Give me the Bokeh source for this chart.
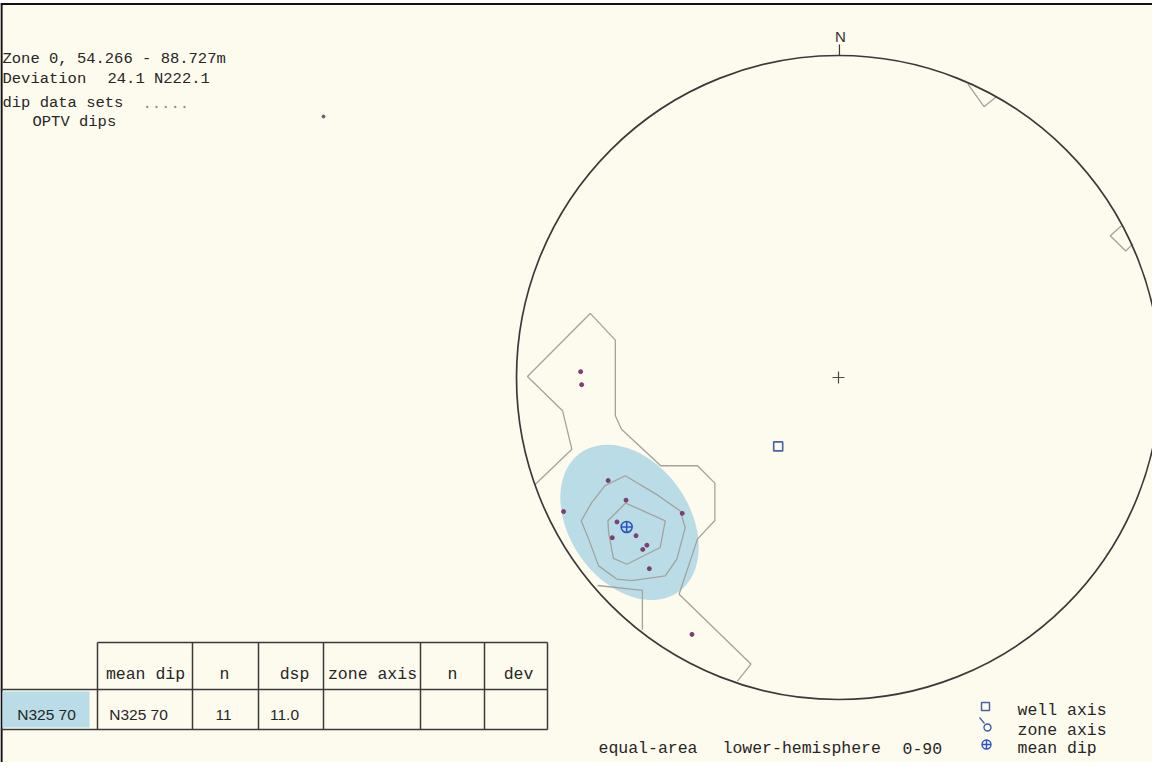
import numpy as np
from bokeh.plotting import figure
from bokeh.models import Range1d
from bokeh.core.properties import value
from bokeh.embed import file_html
from bokeh.resources import INLINE

# ---------------- data ----------------
# individual OPTV dips, as plotted (trend of plotted vector, plunge) in degrees
dip_trend = [271.3, 268.4, 245.9, 240.0, 244.0, 229.0, 236.9, 234.7, 232.0, 228.8, 228.7, 224.7, 209.7]
dip_plunge = [69.0, 68.7, 67.3, 65.2, 84.4, 54.1, 71.0, 75.0, 68.7, 68.0, 69.8, 72.4, 81.0]
mean_dip = [234.8, 69.4]          # plotted trend, plunge of the mean dip
well_axis = [221.2, 23.2]         # plotted trend, plunge of the well axis

# density contours, net units (east, north), unit circle = 90 deg
contour_outer_a_e = [-0.943, -0.828, -0.857, -0.966, -0.771, -0.693, -0.693, -0.674, -0.552, -0.438, -0.384, -0.384, -0.438, -0.495, -0.272, -0.314]
contour_outer_a_n = [-0.333, -0.223, -0.103, 0.003, 0.199, 0.116, -0.119, -0.161, -0.274, -0.274, -0.328, -0.444, -0.502, -0.673, -0.890, -0.943]
contour_outer_b_e = [-0.748, -0.609, -0.609]
contour_outer_b_n = [-0.646, -0.661, -0.783]
contour_wrap1_e = [0.402, 0.452, 0.491]
contour_wrap1_n = [0.911, 0.841, 0.873]
contour_wrap2_e = [0.879, 0.844, 0.892, 0.915]
contour_wrap2_n = [0.471, 0.440, 0.393, 0.415]
contour_mid_e = [-0.662, -0.559, -0.492, -0.476, -0.502, -0.538, -0.642, -0.689, -0.745, -0.776, -0.799, -0.766, -0.725]
contour_mid_n = [-0.305, -0.367, -0.414, -0.466, -0.564, -0.616, -0.631, -0.626, -0.585, -0.502, -0.445, -0.388, -0.336]
contour_in_e = [-0.661, -0.538, -0.554, -0.657, -0.699, -0.714, -0.716]
contour_in_n = [-0.390, -0.445, -0.528, -0.580, -0.562, -0.481, -0.445]

# dispersion ellipse (net units): centre, semi-axes, orientation (deg from east, ccw)
ellipse_center = [-0.649, -0.450]
ellipse_axes = [0.264, 0.186]
ellipse_angle = -55.0

header_words = ["Zone 0, 54.266 - 88.727m", "Deviation", "24.1 N222.1", "dip data sets", "OPTV dips"]
header_dots = ["....."]
table_header = ["mean dip", "n", "dsp", "zone axis", "n", "dev"]
table_row = ["N325 70", "11", "11.0", "", "", ""]
row_label = ["N325 70"]
legend_labels = ["well axis", "zone axis", "mean dip"]
footer_words = ["equal-area", "lower-hemisphere", "0-90"]
north_label = ["N"]

# ---------------- layout ----------------
CX, CY, R = 846.0, 385.0, 322.0
W, H = 1152, 762
INK = "#262626"
CREAM = "#fdfaee"
BLUE_FILL = "#b9dce6"
MONO = "Liberation Mono"
SANS = "Liberation Sans"


def X(px):
    return (px - CX) / R


def Y(py):
    return (CY - py) / R


def proj(trend, plunge):
    t = np.radians(np.asarray(trend, dtype=float))
    r = np.sqrt(2.0) * np.sin(np.radians(np.asarray(plunge, dtype=float)) / 2.0)
    return r * np.sin(t), r * np.cos(t)


p = figure(width=W, height=H, x_range=Range1d(X(8), X(8 + W)), y_range=Range1d(Y(8 + H), Y(8)),
           output_backend="svg", toolbar_location=None, min_border=0,
           x_axis_location=None, y_axis_location=None)
p.grid.visible = False
p.outline_line_color = None
p.background_fill_color = "white"
p.border_fill_color = "white"

# cream page and frame lines
p.quad(left=X(9), right=X(8 + W), top=Y(11.5), bottom=Y(8 + H), fill_color=CREAM, line_color=None)
p.line([X(8), X(8 + W)], [Y(11.5), Y(11.5)], line_color="#111111", line_width=2.2)
p.line([X(9), X(9)], [Y(11), Y(8 + H)], line_color="#111111", line_width=2.2)

# dispersion ellipse
t = np.linspace(0, 2 * np.pi, 200)
phi = np.radians(ellipse_angle)
a, b = ellipse_axes
ex = ellipse_center[0] + a * np.cos(t) * np.cos(phi) - b * np.sin(t) * np.sin(phi)
ey = ellipse_center[1] + a * np.cos(t) * np.sin(phi) + b * np.sin(t) * np.cos(phi)
p.patch(ex, ey, fill_color=BLUE_FILL, line_color=None)

# contours
xs = [contour_outer_a_e, contour_outer_b_e, contour_wrap1_e, contour_wrap2_e,
      contour_mid_e + contour_mid_e[:1], contour_in_e + contour_in_e[:1]]
ys = [contour_outer_a_n, contour_outer_b_n, contour_wrap1_n, contour_wrap2_n,
      contour_mid_n + contour_mid_n[:1], contour_in_n + contour_in_n[:1]]
p.multi_line(xs, ys, line_color="#a3a39e", line_width=1.3)

# primitive circle, north tick, centre
p.circle(x=[0], y=[0], radius=1.0, fill_color=None, line_color="#3a3a3a", line_width=1.7)
p.line([0.003, 0.003], [Y(52), 1.0], line_color="#3a3a3a", line_width=1.2)
p.text(x=[X(848)], y=[Y(44)], text=north_label, text_font=value(SANS), text_font_size="15px",
       text_align="center", text_baseline="alphabetic", text_color="#333333")
p.scatter(x=[0], y=[0], marker="cross", size=12, line_color="#4a4a4a", line_width=1.2)

# data points
de, dn = proj(dip_trend, dip_plunge)
p.scatter(de, dn, marker="circle", size=4, fill_color="#7b3f70", line_color="#7b3f70")

# well axis and mean dip
we, wn = proj([well_axis[0]], [well_axis[1]])
p.scatter(we, wn, marker="square", size=9, fill_color=None, line_color="#4862a8", line_width=1.6)
me, mn = proj([mean_dip[0]], [mean_dip[1]])
p.scatter(me, mn, marker="circle_cross", size=11, fill_color=None, line_color="#2a55c4", line_width=1.6)

# header text
p.text(x=[X(v) for v in [10, 10, 115, 10, 40]],
       y=[Y(v) for v in [66, 86, 86, 110, 129]], text=header_words,
       text_font=value(MONO), text_font_size="15.5px", text_align="left", text_baseline="alphabetic",
       text_color=INK)
p.text(x=[X(150)], y=[Y(110)], text=header_dots, text_font=value(MONO), text_font_size="15.5px",
       text_align="left", text_baseline="alphabetic", text_color="#8a8a8a")
p.scatter([X(331)], [Y(124)], marker="circle", size=3, fill_color="#6e5a6e", line_color="#6e5a6e")

# table
p.quad(left=X(10), right=X(97), top=Y(699), bottom=Y(735), fill_color=BLUE_FILL, line_color=None)
col_edges = [105, 200, 266, 331, 428, 492, 555]
hx = [[X(col_edges[0]), X(col_edges[-1])], [X(8), X(col_edges[-1])], [X(8), X(col_edges[-1])]]
hy = [[Y(650), Y(650)], [Y(697), Y(697)], [Y(737), Y(737)]]
vx = [[X(c), X(c)] for c in col_edges]
vy = [[Y(650), Y(737)] for _ in col_edges]
p.multi_line(hx + vx, hy + vy, line_color="#3a3a3a", line_width=1.5)

p.text(x=[X(v) for v in [153, 232, 302, 380, 460, 526]], y=[Y(682)] * 6, text=table_header,
       text_font=value(MONO), text_font_size="16.5px", text_align="center", text_baseline="alphabetic",
       text_color=INK)
p.text(x=[X(54)] + [X(v) for v in [146, 231, 292, 380, 460, 526]], y=[Y(722)] * 7,
       text=row_label + table_row, text_font=value(SANS), text_font_size="15.5px",
       text_align="center", text_baseline="alphabetic", text_color=INK)

# legend
p.scatter([X(993)], [Y(714)], marker="square", size=8, fill_color=None, line_color="#4862a8", line_width=1.5)
p.scatter([X(995)], [Y(735)], marker="circle", size=7, fill_color=None, line_color="#3a5cc0", line_width=1.4)
p.line([X(987), X(992)], [Y(725), Y(731)], line_color="#4a5a90", line_width=1.2)
p.scatter([X(994)], [Y(752)], marker="circle_cross", size=9, fill_color=None, line_color="#2a55c4", line_width=1.4)
p.text(x=[X(1025)] * 3, y=[Y(718), Y(738), Y(756)], text=legend_labels,
       text_font=value(MONO), text_font_size="16.5px", text_align="left", text_baseline="alphabetic",
       text_color=INK)
p.text(x=[X(606), X(730), X(910)], y=[Y(756)] * 3, text=footer_words, text_font=value(MONO),
       text_font_size="16.5px", text_align="left", text_baseline="alphabetic", text_color=INK)

open("out.html", "w").write(file_html(p, INLINE))
